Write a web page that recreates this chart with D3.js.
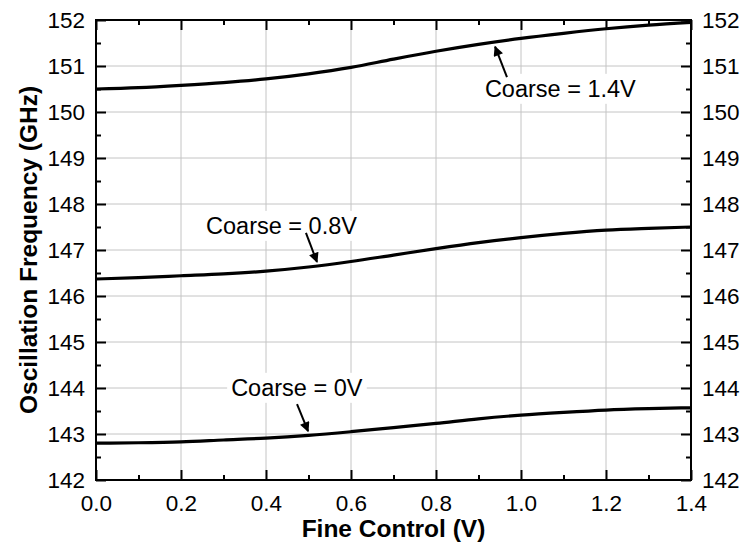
<!DOCTYPE html>
<html><head><meta charset="utf-8">
<script src="https://cdn.jsdelivr.net/npm/d3@7"></script>
<style>
body{margin:0;background:#fff;}
text{font-family:"Liberation Sans",Arial,sans-serif;}
</style></head>
<body><svg id="chart" width="744" height="548"></svg>
<script>
const fineControl = [0,0.1,0.2,0.3,0.4,0.5,0.6,0.7,0.8,0.9,1.0,1.1,1.2,1.3,1.4];
const coarse14 = [150.50,150.53,150.58,150.64,150.72,150.83,150.97,151.15,151.32,151.47,151.60,151.71,151.81,151.89,151.95];
const coarse08 = [146.37,146.40,146.44,146.48,146.54,146.63,146.75,146.89,147.03,147.16,147.27,147.36,147.43,147.47,147.50];
const coarse00 = [142.80,142.81,142.83,142.87,142.91,142.97,143.05,143.14,143.23,143.33,143.41,143.47,143.52,143.55,143.57];
const xTicks = [0,0.2,0.4,0.6,0.8,1.0,1.2,1.4];
const xMinor = [0.1,0.3,0.5,0.7,0.9,1.1,1.3];
const yTicks = [142,143,144,145,146,147,148,149,150,151,152];
const yMinor = [142.5,143.5,144.5,145.5,146.5,147.5,148.5,149.5,150.5,151.5];
const labels = ["Coarse = 1.4V","Coarse = 0.8V","Coarse = 0V"];
// annotation: text anchor (data), arrow tail and head (data)
const annTextX = [0.915,0.259,0.318];
const annTextY = [150.33,147.35,143.83];
const arrowTail = [[0.967,150.76],[0.494,147.37],[0.473,143.65]];
const arrowHead = [[0.939,151.42],[0.520,146.74],[0.499,143.06]];

const svg = d3.select("#chart");
const m = {l:96,r:53,t:20,b:68};
const W = 744-m.l-m.r, H = 548-m.t-m.b;
const g = svg.append("g").attr("transform",`translate(${m.l},${m.t})`);
const x = d3.scaleLinear().domain([0,1.4]).range([0,W]);
const y = d3.scaleLinear().domain([142,152]).range([H,0]);

// grid
g.append("g").selectAll("line").data(xTicks.slice(1,-1)).join("line")
  .attr("x1",d=>x(d)).attr("x2",d=>x(d)).attr("y1",0).attr("y2",H)
  .attr("stroke","#c4c4c4").attr("stroke-width",1);
g.append("g").selectAll("line").data(yTicks.slice(1,-1)).join("line")
  .attr("y1",d=>y(d)).attr("y2",d=>y(d)).attr("x1",0).attr("x2",W)
  .attr("stroke","#c4c4c4").attr("stroke-width",1);

// curves
const line = d3.line().x((d,i)=>x(fineControl[i])).y(d=>y(d)).curve(d3.curveMonotoneX);
[coarse14,coarse08,coarse00].forEach(s=>{
  g.append("path").datum(s).attr("d",line).attr("fill","none")
   .attr("stroke","#000").attr("stroke-width",3.2);
});

// annotations
svg.append("defs").append("marker").attr("id","ah").attr("viewBox","0 0 10 10")
  .attr("refX",9).attr("refY",5).attr("markerWidth",6).attr("markerHeight",5)
  .attr("markerUnits","strokeWidth").attr("orient","auto")
  .append("path").attr("d","M0,0 L10,5 L0,10 z").attr("fill","#000");
labels.forEach((t,i)=>{
  const tx = g.append("text").attr("x",x(annTextX[i])).attr("y",y(annTextY[i]))
    .attr("font-size",23.5).attr("fill","#000").text(t);
  const bb = tx.node().getBBox();
  g.insert("rect",()=>tx.node()).attr("x",bb.x-4).attr("y",bb.y-2)
    .attr("width",bb.width+8).attr("height",bb.height+4).attr("fill","#fff");
  g.append("line").attr("x1",x(arrowTail[i][0])).attr("y1",y(arrowTail[i][1]))
    .attr("x2",x(arrowHead[i][0])).attr("y2",y(arrowHead[i][1]))
    .attr("stroke","#000").attr("stroke-width",2).attr("marker-end","url(#ah)");
});

// axes
function styleAxis(sel){
  sel.select(".domain").remove();
  sel.selectAll(".tick line").attr("stroke","#000").attr("stroke-width",2);
  sel.selectAll(".tick text").attr("font-size",22.5).attr("fill","#000")
    .style("font-family","'Liberation Sans',Arial,sans-serif");
}
g.append("g").attr("transform",`translate(0,${H})`)
  .call(d3.axisBottom(x).tickValues(xTicks).tickFormat(d3.format(".1f")).tickSize(-10).tickPadding(15))
  .call(styleAxis);
g.append("g").attr("transform",`translate(0,${H})`)
  .call(d3.axisBottom(x).tickValues(xMinor).tickFormat("").tickSize(-5)).call(styleAxis);
g.append("g").call(d3.axisTop(x).tickValues(xTicks).tickFormat("").tickSize(-10)).call(styleAxis);
g.append("g").call(d3.axisTop(x).tickValues(xMinor).tickFormat("").tickSize(-5)).call(styleAxis);
g.append("g").call(d3.axisLeft(y).tickValues(yTicks).tickFormat(d3.format("d")).tickSize(-10).tickPadding(11)).call(styleAxis);
g.append("g").call(d3.axisLeft(y).tickValues(yMinor).tickFormat("").tickSize(-5)).call(styleAxis);
g.append("g").attr("transform",`translate(${W},0)`)
  .call(d3.axisRight(y).tickValues(yTicks).tickFormat(d3.format("d")).tickSize(-10).tickPadding(11)).call(styleAxis);
g.append("g").attr("transform",`translate(${W},0)`)
  .call(d3.axisRight(y).tickValues(yMinor).tickFormat("").tickSize(-5)).call(styleAxis);

// frame
g.append("rect").attr("x",0).attr("y",0).attr("width",W).attr("height",H)
  .attr("fill","none").attr("stroke","#000").attr("stroke-width",2);

// titles
svg.append("text").attr("x",m.l+W/2).attr("y",537).attr("text-anchor","middle")
  .attr("font-size",24.5).attr("font-weight","bold").text("Fine Control (V)");
svg.append("text").attr("transform",`translate(37,${m.t+H/2}) rotate(-90)`)
  .attr("text-anchor","middle").attr("font-size",24.5).attr("font-weight","bold")
  .text("Oscillation Frequency (GHz)");
</script></body></html>
